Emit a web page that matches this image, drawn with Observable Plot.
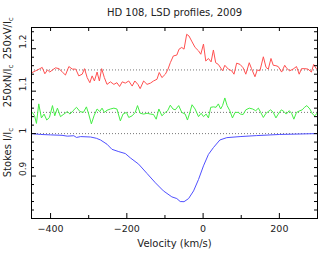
<!DOCTYPE html>
<html><head><meta charset="utf-8">
<script src="https://cdn.jsdelivr.net/npm/d3@7"></script>
<script src="https://cdn.jsdelivr.net/npm/@observablehq/plot@0.6"></script>
<style>body{margin:0;background:#fff} svg{display:block}</style>
</head><body><div id="chart"></div>
<script>
const title = "HD 108, LSD profiles, 2009";
const xLabel = "Velocity (km/s)";
const labelText = ["Stokes I/I", "250xN/I", "250xV/I"];
const labelY = [0.897, 1.062, 1.175];

const velI = [-450,-426,-400,-370,-356,-339,-332,-321,-295,-280,-269,-252,-239,-221,-204,-191,-169,-147,-125,-104,-82,-69,-60,-50,-38,-25,-12,1,14,27,44,62,97,140,201,297];
const stokesI = [1.0,0.998,0.997,0.996,0.994,0.995,0.991,0.993,0.992,0.989,0.985,0.975,0.963,0.9575,0.953,0.943,0.928,0.906,0.884,0.865,0.851,0.847,0.840,0.8396,0.847,0.865,0.892,0.924,0.951,0.967,0.985,0.9905,0.993,0.9953,0.998,1.0];

const velN = [-448,-442,-437,-431,-424,-417,-410,-403,-395,-389,-382,-374,-365,-356,-349,-341,-332,-323,-314,-306,-300,-293,-286,-278,-271,-265,-259,-252,-243,-234,-226,-217,-210,-201,-195,-186,-178,-172,-165,-156,-147,-138,-130,-123,-116,-108,-99,-93,-86,-79,-73,-64,-56,-47,-41,-36,-29,-21,-12,-5,1,8,14,20,27,34,40,46,51,57,63,70,77,84,92,98,105,112,121,130,138,145,151,158,165,171,177,184,191,197,205,212,218,226,232,238,245,254,260,266,272,280,287,293,299];
const nullN = [1.050,1.042,1.024,1.070,1.037,1.046,1.032,1.038,1.066,1.042,1.060,1.040,1.046,1.052,1.046,1.054,1.062,1.052,1.050,1.063,1.046,1.023,1.042,1.058,1.052,1.060,1.050,1.055,1.058,1.060,1.058,1.030,1.046,1.050,1.038,1.042,1.050,1.066,1.048,1.046,1.048,1.046,1.045,1.034,1.058,1.042,1.050,1.054,1.067,1.058,1.056,1.066,1.050,1.046,1.032,1.046,1.068,1.058,1.040,1.048,1.040,1.046,1.037,1.062,1.063,1.062,1.070,1.058,1.066,1.084,1.066,1.054,1.037,1.050,1.050,1.046,1.045,1.056,1.060,1.058,1.054,1.060,1.050,1.038,1.048,1.052,1.056,1.050,1.037,1.046,1.056,1.052,1.046,1.054,1.048,1.034,1.050,1.054,1.056,1.062,1.066,1.058,1.046,1.042,1.048];

const velV = [-448,-439,-430,-422,-415,-408,-402,-395,-387,-378,-369,-361,-352,-343,-334,-326,-317,-311,-304,-297,-291,-285,-278,-272,-266,-259,-252,-243,-234,-226,-219,-212,-204,-195,-186,-179,-171,-165,-156,-147,-138,-130,-121,-115,-108,-99,-92,-86,-78,-69,-63,-56,-50,-43,-37,-30,-21,-12,-6,1,7,14,21,27,33,40,51,57,66,75,81,88,97,105,112,121,127,136,142,149,158,165,171,178,184,191,197,206,214,220,227,236,245,252,258,267,275,284,290,297];
const stokesV = [1.144,1.148,1.152,1.156,1.141,1.150,1.145,1.150,1.155,1.153,1.145,1.138,1.158,1.152,1.152,1.136,1.140,1.153,1.132,1.120,1.136,1.124,1.145,1.124,1.153,1.132,1.116,1.122,1.116,1.120,1.111,1.122,1.119,1.124,1.112,1.124,1.116,1.106,1.124,1.116,1.119,1.124,1.128,1.144,1.132,1.140,1.152,1.167,1.183,1.185,1.199,1.203,1.199,1.234,1.230,1.218,1.203,1.195,1.187,1.211,1.171,1.177,1.169,1.197,1.167,1.163,1.148,1.161,1.152,1.148,1.140,1.166,1.163,1.155,1.140,1.167,1.153,1.134,1.150,1.148,1.181,1.156,1.152,1.177,1.161,1.160,1.158,1.145,1.161,1.153,1.148,1.152,1.158,1.140,1.153,1.153,1.152,1.145,1.163,1.153];

const baselines = [1, 1.05, 1.15];
const xMajor = [-400, -200, 0, 200];
const xMinor = [-300, -100, 100];
const yMajor = [0.9, 1, 1.1, 1.2];
const yMinor = [0.82,0.84,0.86,0.88,0.92,0.94,0.96,0.98,1.02,1.04,1.06,1.08,1.12,1.14,1.16,1.18,1.22,1.24];

const iData = velI.map((v, i) => ({v, val: stokesI[i]}));
const nData = velN.map((v, i) => ({v, val: nullN[i]}));
const vData = velV.map((v, i) => ({v, val: stokesV[i]}));

const W = 318, H = 255, mL = 31, mR = 1, mT = 27, mB = 37;
const innerW = W - mL - mR, innerH = H - mT - mB;
const fmtX = d => d < 0 ? "\u2212" + Math.abs(d) : String(d);

const plot = Plot.plot({
  width: W, height: H,
  marginLeft: mL, marginRight: mR, marginTop: mT, marginBottom: mB,
  style: {fontFamily: "DejaVu Sans", fontSize: "9px", background: "white", overflow: "visible", color: "black"},
  x: {domain: [-450, 300], axis: null},
  y: {domain: [0.8, 1.25], axis: null},
  marks: [
    Plot.ruleY(baselines, {y: d => d, stroke: "#777", strokeDasharray: "1,2", strokeWidth: 1}),
    Plot.line(vData, {x: "v", y: "val", stroke: "#ff5050", strokeWidth: 1}),
    Plot.line(nData, {x: "v", y: "val", stroke: "#44ee44", strokeWidth: 1}),
    Plot.line(iData, {x: "v", y: "val", stroke: "#5050ff", strokeWidth: 1}),
    Plot.tickX(xMajor, {x: d => d, insetTop: innerH - 5, stroke: "black"}),
    Plot.tickX(xMinor, {x: d => d, insetTop: innerH - 3, stroke: "black"}),
    Plot.tickX(xMajor.concat(xMinor), {x: d => d, insetBottom: innerH - 4, stroke: "black"}),
    Plot.tickY(yMajor, {y: d => d, insetRight: innerW - 5, stroke: "black"}),
    Plot.tickY(yMinor, {y: d => d, insetRight: innerW - 3, stroke: "black"}),
    Plot.tickY(yMajor.concat(yMinor), {y: d => d, insetLeft: innerW - 3, stroke: "black"}),
    Plot.frame({stroke: "black"}),
    Plot.text(xMajor, {x: d => d, text: fmtX, frameAnchor: "bottom", dy: 10, lineAnchor: "middle", fontSize: 9.5, fill: "#222"}),
    Plot.text(yMajor, {y: d => d, text: d => String(d), frameAnchor: "left", dx: -8, rotate: -90, lineAnchor: "middle", fontSize: 9, fill: "#222"}),
    Plot.text([title], {text: d => d, frameAnchor: "top", dy: -15, lineAnchor: "middle", fontSize: 10, fill: "#222"}),
    Plot.text([xLabel], {text: d => d, frameAnchor: "bottom", dy: 25, lineAnchor: "middle", fontSize: 10, fill: "#222"}),
    Plot.text(labelText, {y: (d, i) => labelY[i], text: d => d, frameAnchor: "left", dx: -23.5, rotate: -90, lineAnchor: "middle", fontSize: 10, fill: "#222"})
  ]
});

d3.select(plot).selectAll("text").each(function() {
  if (labelText.includes(this.textContent)) {
    d3.select(this).append("tspan").attr("dy", "0.3em").attr("font-size", 7).text("c");
  }
});

document.getElementById("chart").appendChild(plot);
</script>
</body></html>
